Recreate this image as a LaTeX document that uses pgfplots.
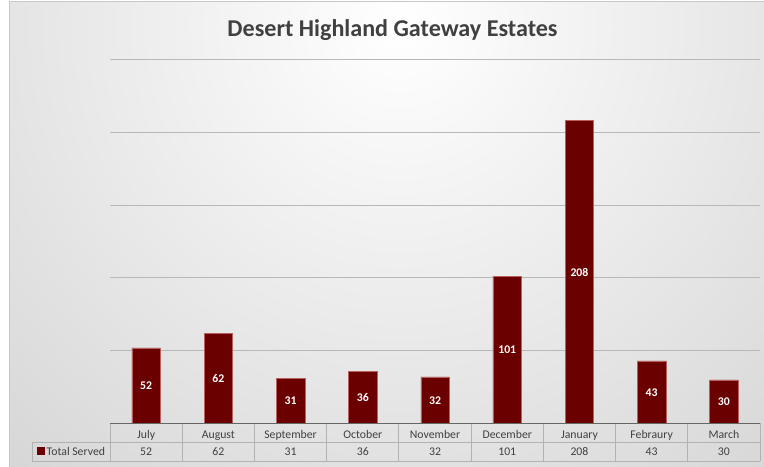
\documentclass[border=0pt]{standalone}
\usepackage{pgfplots}
\pgfplotsset{compat=1.18}
\usepackage{pgfplotstable}
\usepackage{fontspec}
\setmainfont{Carlito}
\definecolor{barred}{HTML}{6B0000}
\definecolor{barline}{HTML}{B86060}
\definecolor{txt}{HTML}{404040}
\pgfplotstableread{
x v
0 52
1 62
2 31
3 36
4 32
5 101
6 208
7 43
8 30
}\served
\begin{document}
\begin{tikzpicture}[x=1bp,y=1bp]
\fill[white] (0,0) rectangle (764,467);
\begin{scope}
\clip (9,0) rectangle (764,465);
\shade[inner color=white, outer color=black!21] (400,440) circle (780);
\end{scope}
\draw[black!22, line width=1bp] (9,0) -- (9,465) -- (764,465);
\begin{axis}[at={(110bp,43.5bp)}, anchor=south west, scale only axis, width=650bp, height=364bp,
 xmin=-0.5,xmax=8.5,ymin=0,ymax=250, axis line style={draw=none},
 ytick={50,100,...,250}, yticklabels={}, ymajorgrids, grid style={black!28, line width=0.8bp},
 xtick={0,...,8}, xticklabels={July,August,September,October,November,December,January,Febraury,March},
 major tick length=0pt,
 xticklabel style={font=\fontsize{11.8}{13}\selectfont, text=txt, anchor=base, yshift=-14.8bp},
 clip=false]
\addplot[ybar, bar width=28.5bp, fill=barred, draw=barline, line width=0.5bp] table[x=x,y=v]{\served};
\addplot[draw=none, mark=none, point meta=explicit symbolic, nodes near coords={\pgfplotspointmeta},
 every node near coord/.style={anchor=center, text=white, font=\bfseries\fontsize{11.8}{13}\selectfont}]
 table[x=x, y expr=\thisrow{v}/2, meta=v]{\served};
\addplot[draw=none, mark=none, point meta=explicit symbolic, nodes near coords={\pgfplotspointmeta},
 every node near coord/.style={anchor=base, yshift=-32.5bp, text=txt, font=\fontsize{11.8}{13}\selectfont}]
 table[x=x, y expr=0, meta=v]{\served};
\end{axis}
\foreach \k in {0,...,9} \draw[black!30, line width=0.8bp] ({110+72.222*\k},5.5) -- ({110+72.222*\k},43.5);
\draw[black!30, line width=0.8bp] (32,24.5) -- (760,24.5);
\draw[black!30, line width=0.8bp] (32,5.5) -- (760,5.5);
\draw[black!30, line width=0.8bp] (32,5.5) -- (32,24.5);
\draw[black!60, line width=1bp] (110,43.5) -- (760,43.5);
\fill[barred] (37,11.5) rectangle (45,19.5);
\node[anchor=base west, inner sep=0pt, text=txt, font=\fontsize{11.8}{13}\selectfont] at (46.5,11) {Total Served};
\node[anchor=base, inner sep=0pt, text=txt, font=\bfseries\fontsize{24.2}{28}\selectfont] at (392.5,430) {Desert Highland Gateway Estates};
\pgfresetboundingbox
\useasboundingbox (0,0) rectangle (764,467);
\end{tikzpicture}
\end{document}
